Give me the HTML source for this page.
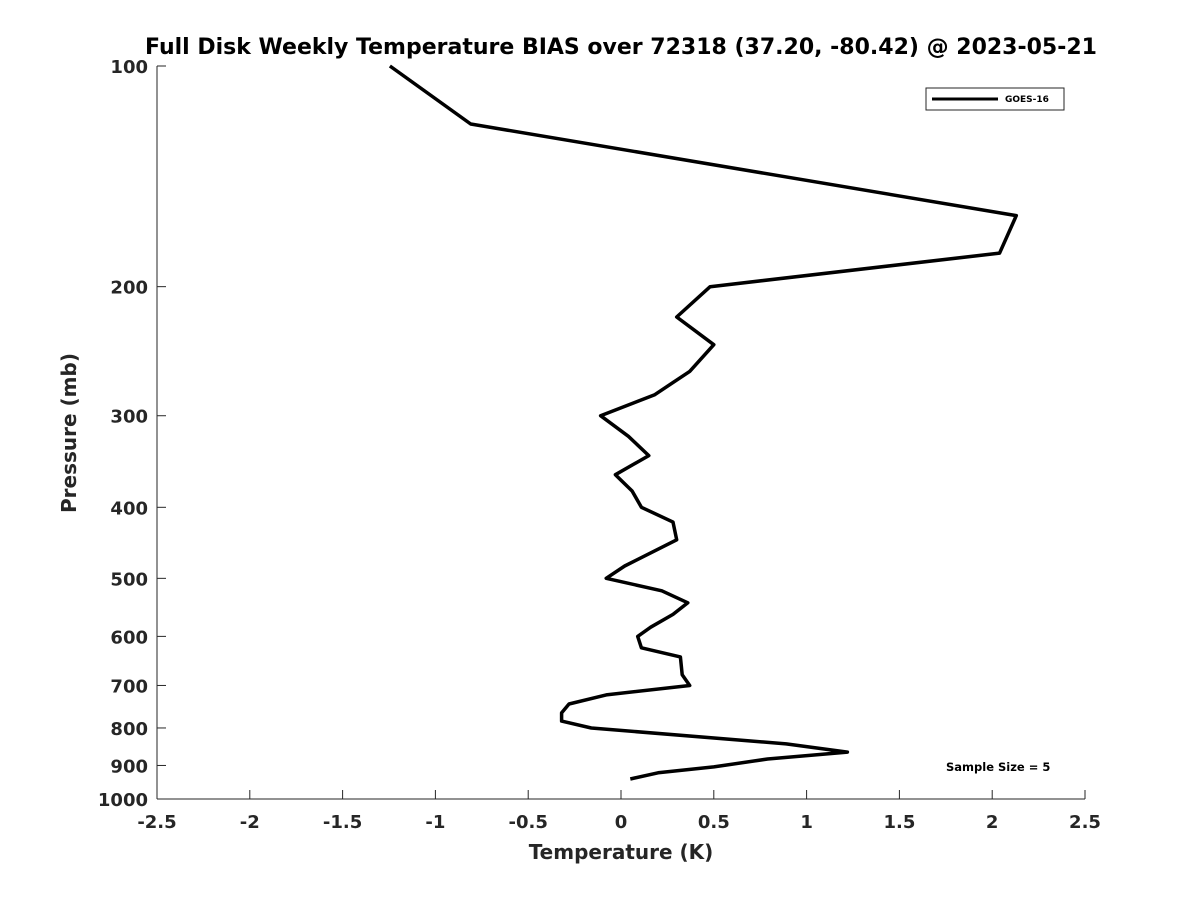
<!DOCTYPE html>
<html><head><meta charset="utf-8"><style>
body{margin:0;background:#fff;}
svg text{font-family:"DejaVu Sans","Liberation Sans",sans-serif;font-weight:bold;fill:#262626;}
</style></head><body>
<svg id="chart" width="1200" height="900" viewBox="0 0 1200 900" xmlns="http://www.w3.org/2000/svg">
<rect width="1200" height="900" fill="#fff"/>
<text x="621" y="54" text-anchor="middle" font-size="22" style="fill:#000">Full Disk Weekly Temperature BIAS over 72318 (37.20, -80.42) @ 2023-05-21</text>
<g id="axes"></g>
<polyline id="series" fill="none" stroke="#000" stroke-width="3.5" stroke-linejoin="round"/>
<g>
<rect x="926" y="88" width="138" height="22" fill="#fff" stroke="#262626" stroke-width="1"/>
<line x1="932" y1="99" x2="998" y2="99" stroke="#000" stroke-width="3"/>
<text x="1005" y="102" font-size="9" style="fill:#000">GOES-16</text>
</g>
<text x="946" y="771" font-size="11.5" style="fill:#000">Sample Size = 5</text>
<text x="621" y="859" text-anchor="middle" font-size="20">Temperature (K)</text>
<text transform="translate(76,433) rotate(-90)" text-anchor="middle" font-size="20">Pressure (mb)</text>
</svg>
<script>
const temps=[-1.245,-0.81,2.13,2.04,0.48,0.30,0.50,0.37,0.18,-0.11,0.04,0.15,-0.03,0.06,0.11,0.28,0.30,0.02,-0.08,0.22,0.36,0.28,0.16,0.09,0.11,0.32,0.33,0.37,-0.08,-0.28,-0.32,-0.32,-0.16,0.89,1.22,0.79,0.50,0.20,0.05];
const pressures=[100,120,160,180,200,220,240,261,281,300,320,340,361,380,400,419,443,481,500,520,540,560,583,600,622,640,677,700,721,742,763,783,800,841,863,882,904,921,939];
const xTicks=[-2.5,-2,-1.5,-1,-0.5,0,0.5,1,1.5,2,2.5];
const xTickLabels=["-2.5","-2","-1.5","-1","-0.5","0","0.5","1","1.5","2","2.5"];
const yTicks=[100,200,300,400,500,600,700,800,900,1000];
const L=157,R=1085,T=66,B=799;
const xs=v=>L+(v+2.5)/5*(R-L);
const ys=p=>T+(Math.log10(p)-2)*(B-T);
const NS="http://www.w3.org/2000/svg";
const ax=document.getElementById('axes');
function mk(tag,attrs){const e=document.createElementNS(NS,tag);for(const k in attrs)e.setAttribute(k,attrs[k]);ax.appendChild(e);return e;}
let a=mk('line',{x1:L,y1:B,x2:R,y2:B,stroke:'#262626','stroke-width':1});


a=mk('line',{x1:L,y1:T,x2:L,y2:B,stroke:'#262626','stroke-width':1});


xTicks.forEach((v,i)=>{
 const x=xs(v);
 const t=mk('line',{x1:x,y1:B,x2:x,y2:B-9,stroke:'#262626','stroke-width':1});
 
 
 const l=mk('text',{x:x,y:B+29,'text-anchor':'middle','font-size':18});
 l.textContent=xTickLabels[i];
 
 
});
yTicks.forEach(p=>{
 const y=ys(p);
 const t=mk('line',{x1:L,y1:y,x2:L+9,y2:y,stroke:'#262626','stroke-width':1});
 
 
 const l=mk('text',{x:L-9,y:y+7,'text-anchor':'end','font-size':18});
 l.textContent=String(p);
 
 
});
document.getElementById('series').setAttribute('points',temps.map((t,i)=>xs(t).toFixed(1)+','+ys(pressures[i]).toFixed(1)).join(' '));
</script>
</body></html>
